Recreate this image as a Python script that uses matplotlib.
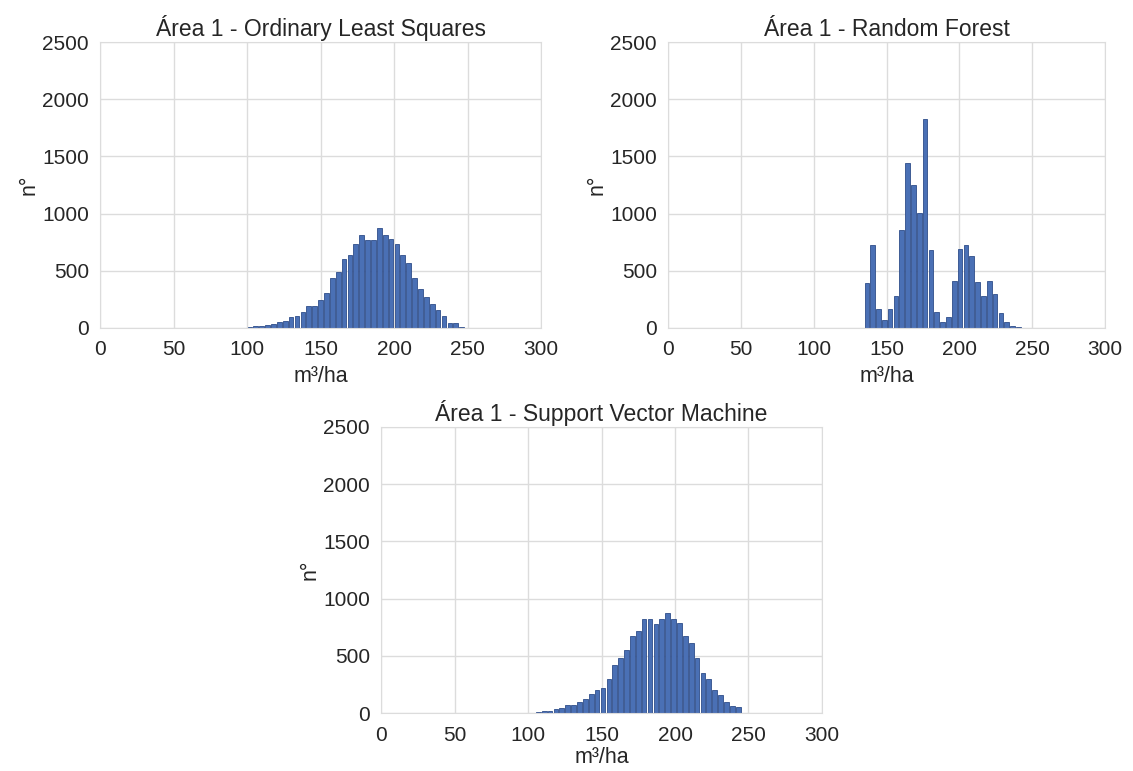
import numpy as np
import matplotlib
matplotlib.use("Agg")
import matplotlib.pyplot as plt
import seaborn as sns

# ---- data (histogram counts) ----
bin_width = 4.0

ols_first_edge = 100.0
ols_counts = [9, 14, 20, 29, 35, 49, 58, 92, 101, 139, 188, 188, 246, 303, 434, 491,
              601, 636, 737, 809, 766, 772, 875, 809, 780, 733, 641, 572, 437, 344,
              274, 209, 160, 108, 45, 45, 10]

rf_first_edge = 134.5
rf_counts = [390, 724, 163, 70, 166, 282, 858, 1445, 1247, 1003, 1823, 686, 137, 55,
             96, 407, 689, 724, 628, 398, 282, 410, 297, 128, 55, 20, 7]

svm_first_edge = 105.0
svm_counts = [9, 14, 20, 38, 41, 72, 72, 99, 125, 165, 203, 223, 293, 420, 484, 551,
              676, 719, 821, 821, 777, 821, 875, 820, 790, 670, 615, 480, 350, 298,
              199, 156, 99, 57, 50]

titles = ["Área 1 - Ordinary Least Squares",
          "Área 1 - Random Forest",
          "Área 1 - Support Vector Machine"]
xlabel = "m³/ha"
ylabel = "n°"
xticks = [0, 50, 100, 150, 200, 250, 300]
yticks = [0, 500, 1000, 1500, 2000, 2500]

sns.set_style("whitegrid")
plt.rcParams['font.family'] = ['Liberation Sans', 'DejaVu Sans']

fig = plt.figure(figsize=(11.33, 7.71), dpi=100)
positions = [
    [0.0883, 0.5746, 0.3892, 0.3709],
    [0.5896, 0.5746, 0.3857, 0.3709],
    [0.3363, 0.0752, 0.3892, 0.3710],
]
label_pads = [5, 5, 2]
datasets = [(ols_first_edge, ols_counts), (rf_first_edge, rf_counts), (svm_first_edge, svm_counts)]

for pos, (start, counts), title, lp in zip(positions, datasets, titles, label_pads):
    ax = fig.add_axes(pos)
    lefts = start + bin_width * np.arange(len(counts))
    ax.bar(lefts + bin_width * 0.1, counts, width=bin_width * 0.8, align='edge',
           color='#4a70b5', edgecolor='#2e4d8a', linewidth=0.6, zorder=2)
    ax.set_xlim(0, 300)
    ax.set_ylim(0, 2500)
    ax.set_xticks(xticks)
    ax.set_yticks(yticks)
    ax.tick_params(labelsize=15, colors='#262626', length=0)
    ax.tick_params(axis='x', pad=9)
    ax.tick_params(axis='y', pad=8)
    ax.set_title(title, fontsize=16.5, color='#262626', pad=4)
    ax.set_xlabel(xlabel, fontsize=15.5, color='#262626', labelpad=lp)
    ax.set_ylabel(ylabel, fontsize=15.5, color='#262626', labelpad=2)
    ax.grid(True, color='#dcdcdc', linewidth=1.0, zorder=0)
    ax.set_axisbelow(True)
    for s in ax.spines.values():
        s.set_color('#dcdcdc')

fig.savefig("out.png", dpi=100, facecolor='white')
